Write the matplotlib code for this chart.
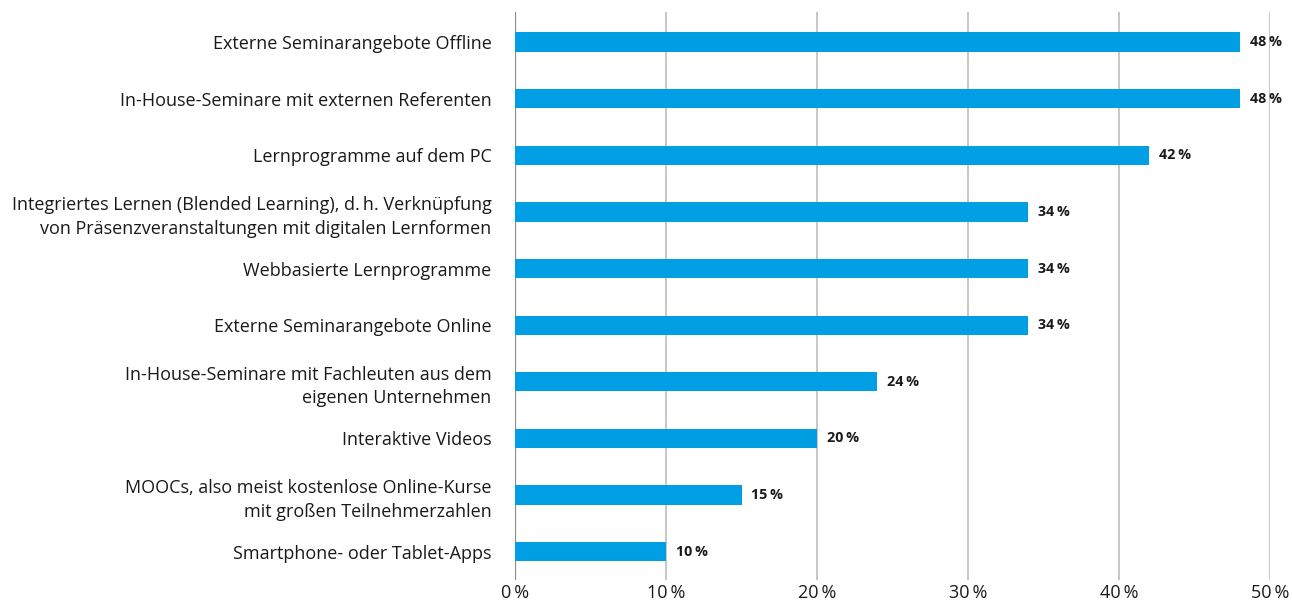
import matplotlib
matplotlib.use("Agg")
import matplotlib.pyplot as plt

# categories top -> bottom, share in percent
labels = [
    "Externe Seminarangebote Offline",
    "In-House-Seminare mit externen Referenten",
    "Lernprogramme auf dem PC",
    "Integriertes Lernen (Blended Learning), d.\u2009h. Verknüpfung\nvon Präsenzveranstaltungen mit digitalen Lernformen",
    "Webbasierte Lernprogramme",
    "Externe Seminarangebote Online",
    "In-House-Seminare mit Fachleuten aus dem\neigenen Unternehmen",
    "Interaktive Videos",
    "MOOCs, also meist kostenlose Online-Kurse\nmit großen Teilnehmerzahlen",
    "Smartphone- oder Tablet-Apps",
]
values = [48, 48, 42, 34, 34, 34, 24, 20, 15, 10]
xticks = [0, 10, 20, 30, 40, 50]

plt.rcParams["font.family"] = ["Open Sans", "DejaVu Sans"]

fig = plt.figure(figsize=(12.92, 6.01), dpi=100)
ax = fig.add_axes([0.3986, 0.035, 0.5844, 0.945])

pos = range(len(values))
ax.barh(pos, values, height=0.34, color="#009fe3", zorder=3)

for y, v in zip(pos, values):
    ax.text(v + 0.65, y, f"{v}\u2009%", va="center", ha="left",
            fontsize=10.3, fontweight="bold", color="#1a1a1a", zorder=4)

ax.set_xlim(0, 50)
ax.set_ylim(9.5, -0.53)
ax.set_yticks(list(pos))
ax.set_yticklabels(labels, fontsize=13, color="#1a1a1a", linespacing=1.4)
ax.set_xticks(xticks)
ax.set_xticklabels([f"{t}\u2009%" for t in xticks], fontsize=13, color="#1a1a1a")

ax.tick_params(axis="both", length=0)
ax.tick_params(axis="y", pad=17)
ax.tick_params(axis="x", pad=3)
for s in ax.spines.values():
    s.set_visible(False)

ax.grid(axis="x", color="#bdbdbd", lw=1.2, zorder=0)
ax.axvline(0, color="#8a8a8a", lw=1.6, zorder=2)

fig.savefig("out.png", dpi=100)
